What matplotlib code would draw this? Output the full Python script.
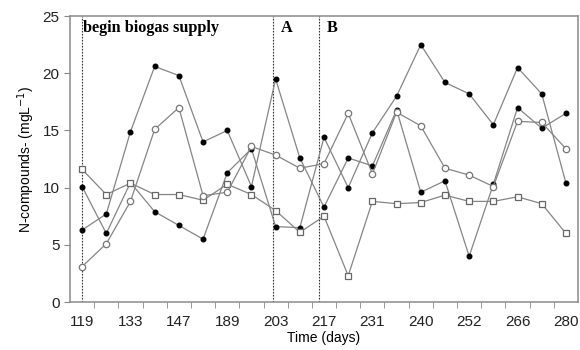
import matplotlib.pyplot as plt
import numpy as np

# sampling days (only every second one is labelled on the axis)
day_labels = ['119', '133', '147', '189', '203', '217', '231', '240', '252', '266', '280']
n_points = 21

squares = [11.6, 9.4, 10.4, 9.4, 9.4, 8.9, 10.3, 9.4, 8.0, 6.1, 7.5,
           2.3, 8.8, 8.6, 8.7, 9.35, 8.8, 8.8, 9.2, 8.6, 6.0]
open_circles = [3.1, 5.1, 8.8, 15.1, 17.0, 9.3, 9.6, 13.6, 12.85, 11.7, 12.1,
                16.5, 11.2, 16.6, 15.4, 11.7, 11.1, 10.1, 15.8, 15.7, 13.4]
filled_a = [6.3, 7.7, 14.9, 20.6, 19.8, 14.0, 15.0, 10.1, 19.5, 12.6, 8.3,
            12.6, 11.9, 16.8, 9.6, 10.6, 4.0, 10.3, 17.0, 15.2, 16.5]
filled_b = [10.1, 6.0, 10.45, 7.9, 6.7, 5.5, 11.3, 13.4, 6.6, 6.5, 14.4,
            10.0, 14.8, 18.0, 22.5, 19.2, 18.2, 15.5, 20.5, 18.2, 10.4]

# event markers (position in sample index units)
events = [0.0, 7.9, 9.8]
event_text = ['begin biogas supply', 'A', 'B']

x = np.arange(n_points)
line_col = '#858585'

fig = plt.figure(figsize=(5.8, 3.5), dpi=100)
ax = fig.add_axes([0.1207, 0.137, 0.8759, 0.817])

for vals in [filled_a, filled_b]:
    ax.plot(x, vals, color=line_col, lw=0.9, marker='o', ms=3.3,
            mfc='black', mec='black', zorder=3)
ax.plot(x, squares, color=line_col, lw=0.9, marker='s', ms=4.6,
        mfc='white', mec='#666666', mew=0.9, zorder=4)
ax.plot(x, open_circles, color=line_col, lw=0.9, marker='o', ms=4.6,
        mfc='white', mec='#777777', mew=0.9, zorder=4)

for ev in events:
    ax.axvline(ev, color='#333333', lw=0.8, ls=(0, (1.5, 1.2)), zorder=2)

ax.text(0.05, 24.0, event_text[0], family='Liberation Serif', fontweight='bold',
        fontsize=11.7, va='center', ha='left')
ax.text(8.2, 24.0, event_text[1], family='Liberation Serif', fontweight='bold',
        fontsize=11.7, va='center', ha='left')
ax.text(10.1, 24.0, event_text[2], family='Liberation Serif', fontweight='bold',
        fontsize=11.7, va='center', ha='left')

ax.set_xlim(-0.5, n_points - 0.5)
ax.set_ylim(0, 25)
ax.set_yticks(np.arange(0, 26, 5))
ax.set_xticks(np.arange(0, n_points, 2))
ax.set_xticklabels(day_labels)
ax.set_xticks(np.arange(0.5, n_points - 0.5, 1), minor=True)
ax.tick_params(axis='x', which='major', length=0, pad=9, labelsize=11)
ax.tick_params(axis='x', which='minor', length=4, color='#888888', direction='out')
ax.tick_params(axis='y', length=4, color='#888888', labelsize=11)
for lab in ax.get_xticklabels() + ax.get_yticklabels():
    lab.set_family('Liberation Sans')
    lab.set_color('#222222')

for s in ax.spines.values():
    s.set_color('#8a8a8a')
    s.set_linewidth(1.1)

ax.set_xlabel('Time (days)', family='Liberation Sans', fontsize=10, labelpad=2)
ax.set_ylabel(r'N-compounds- (mgL$^{-1}$)', family='Liberation Sans', fontsize=10)

fig.savefig('out.png', dpi=100)
